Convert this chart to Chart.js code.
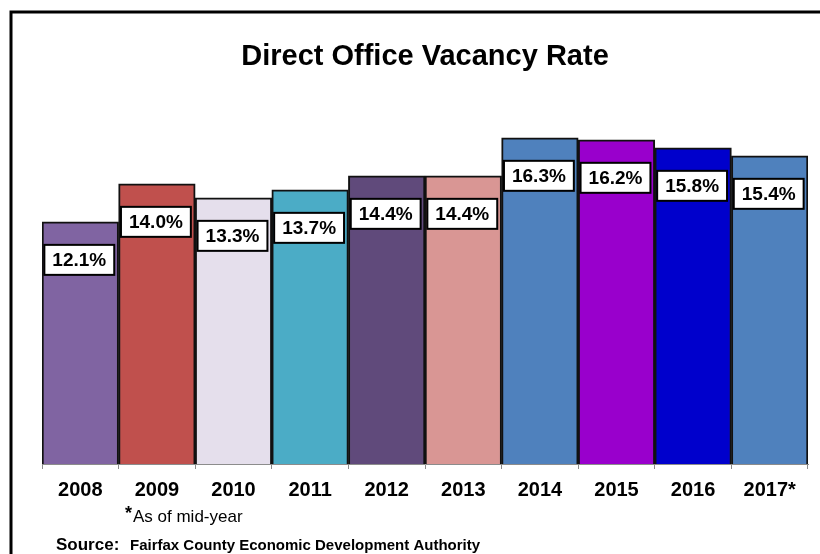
<!DOCTYPE html>
<html>
<head>
<meta charset="utf-8">
<script src="https://cdn.jsdelivr.net/npm/chart.js@4"></script>
<style>
  html, body { margin: 0; padding: 0; background: #fff; }
  canvas { display: block; }
</style>
</head>
<body>
<canvas id="vacancyChart" width="820" height="554"></canvas>
<script>
const years = ['2008', '2009', '2010', '2011', '2012', '2013', '2014', '2015', '2016', '2017*'];
const vacancyRates = [12.1, 14.0, 13.3, 13.7, 14.4, 14.4, 16.3, 16.2, 15.8, 15.4];
const barColors = ['#8064A2', '#C0504D', '#E5DFEC', '#4BACC6', '#604A7B',
                   '#D99694', '#4F81BD', '#9900CC', '#0000CC', '#4F81BD'];

const FONT = '"Liberation Sans", Arial, sans-serif';

// white boxed value labels, a bit below each bar top
const valueBoxes = {
    id: 'valueBoxes',
    afterDatasetsDraw(chart) {
        const ctx = chart.ctx;
        const meta = chart.getDatasetMeta(0);
        ctx.save();
        ctx.font = 'bold 19px ' + FONT;
        ctx.textAlign = 'center';
        ctx.textBaseline = 'middle';
        meta.data.forEach((bar, i) => {
            const text = vacancyRates[i].toFixed(1) + '%';
            const w = ctx.measureText(text).width + 16;
            const h = 30;
            const cx = bar.x - 1;
            const cy = bar.y + 38;
            ctx.fillStyle = '#fff';
            ctx.fillRect(cx - w / 2, cy - h / 2, w, h);
            ctx.lineWidth = 2;
            ctx.strokeStyle = '#000';
            ctx.strokeRect(cx - w / 2, cy - h / 2, w, h);
            ctx.fillStyle = '#000';
            ctx.fillText(text, cx, cy + 1);
        });
        ctx.restore();
    }
};

// outer frame, footnote and source line
const frameAndNotes = {
    id: 'frameAndNotes',
    afterDraw(chart) {
        const ctx = chart.ctx;
        ctx.save();
        ctx.lineWidth = 3;
        ctx.strokeStyle = '#000';
        ctx.strokeRect(11, 12, 900, 700);

        ctx.fillStyle = '#000';
        ctx.textBaseline = 'alphabetic';
        ctx.textAlign = 'left';
        ctx.font = 'bold 18px ' + FONT;
        ctx.fillText('*', 125, 519);
        ctx.font = '17px ' + FONT;
        ctx.fillText('As of mid-year', 133, 522);

        ctx.font = 'bold 17px ' + FONT;
        ctx.fillText('Source:', 56, 550);
        ctx.font = 'bold 15px ' + FONT;
        ctx.fillText('Fairfax County Economic Development Authority', 130, 550);
        ctx.restore();
    }
};

new Chart(document.getElementById('vacancyChart'), {
    type: 'bar',
    data: {
        labels: years,
        datasets: [{
            data: vacancyRates,
            backgroundColor: barColors,
            borderColor: '#111',
            borderWidth: 2,
            categoryPercentage: 1,
            barPercentage: 1
        }]
    },
    options: {
        responsive: false,
        animation: false,
        layout: { padding: { left: 42, right: 12, top: 0, bottom: 0 } },
        plugins: {
            legend: { display: false },
            tooltip: { enabled: false },
            title: {
                display: true,
                text: 'Direct Office Vacancy Rate',
                color: '#000',
                font: { family: FONT, size: 29, weight: 'bold' },
                padding: { top: 40, bottom: 29 }
            }
        },
        scales: {
            x: {
                grid: {
                    offset: true,
                    drawOnChartArea: false,
                    drawTicks: true,
                    tickLength: 5,
                    color: '#8c8c8c'
                },
                border: { display: true, color: '#8c8c8c', width: 1 },
                ticks: {
                    color: '#000',
                    font: { family: FONT, size: 20, weight: 'bold' },
                    padding: 9,
                    maxRotation: 0,
                    autoSkip: false
                },
                afterFit(scale) { scale.height = 90; }
            },
            y: {
                display: false,
                min: 0,
                max: 18
            }
        }
    },
    plugins: [valueBoxes, frameAndNotes]
});
</script>
</body>
</html>
